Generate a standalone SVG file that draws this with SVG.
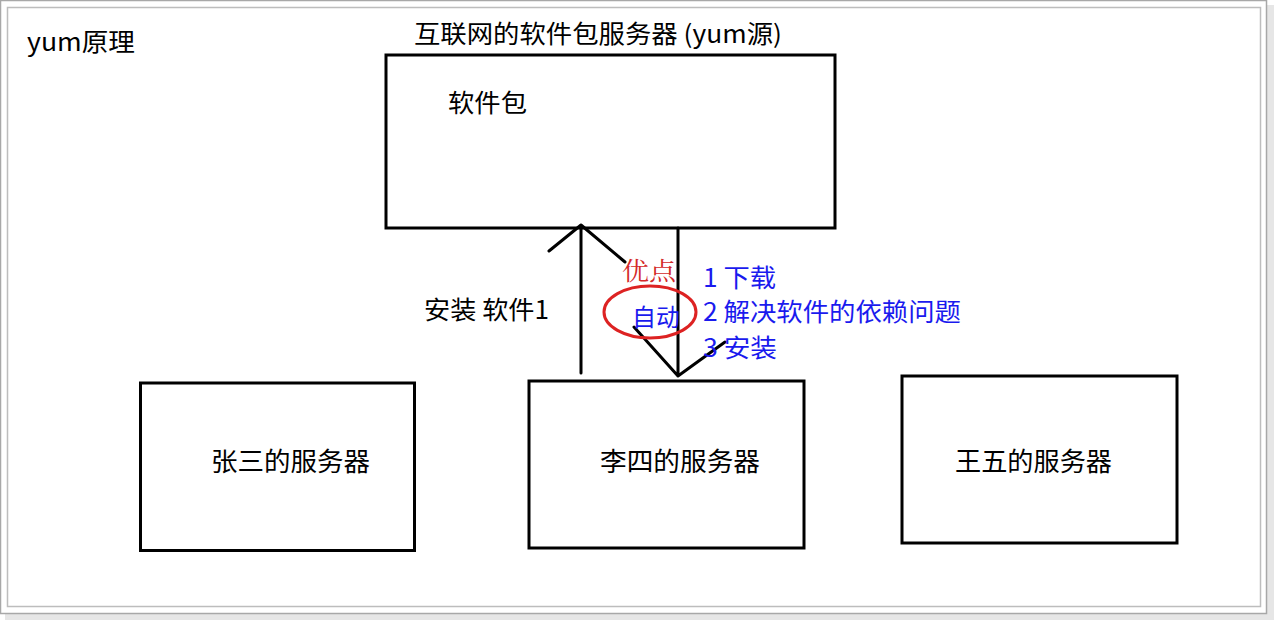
<svg xmlns="http://www.w3.org/2000/svg" width="1274" height="620" viewBox="0 0 1274 620">
<defs>
<style>
.box{fill:none;stroke:#000;stroke-width:3}
.t{font-family:"Noto Sans CJK SC","Noto Sans",sans-serif;fill:#000}
.b{font-family:"Noto Sans CJK SC","Noto Sans",sans-serif;fill:#1a1aee;font-size:25px}
.ln{fill:none;stroke:#000;stroke-width:3;stroke-linecap:round;stroke-linejoin:round}
</style>
</defs>
<rect x="0" y="0" width="1274" height="620" fill="#fff"/>
<rect x="5" y="614" width="1266" height="6" fill="#e6e6e6"/>
<rect x="1267" y="5" width="7" height="615" fill="#e6e6e6"/>
<rect x="0.5" y="0.5" width="1266" height="613" fill="#fff" stroke="#a8a8a8" stroke-width="1.5"/>
<rect x="7.5" y="7.5" width="1253" height="599" fill="#fff" stroke="#bdbdbd" stroke-width="1.5"/>
<text class="t" x="27" y="51" font-size="25" textLength="108" lengthAdjust="spacingAndGlyphs">yum原理</text>
<g id="server-internet">
<rect class="box" x="386" y="55" width="449" height="173"/>
<text class="t" x="414" y="43" font-size="25" textLength="368" lengthAdjust="spacingAndGlyphs">互联网的软件包服务器 (yum源)</text>
<text class="t" x="448" y="112" font-size="25" textLength="79" lengthAdjust="spacingAndGlyphs">软件包</text>
</g>
<g id="server-zhangsan">
<rect class="box" x="140.5" y="383" width="274" height="167.5"/>
<text class="t" x="211" y="471" font-size="26" textLength="159" lengthAdjust="spacingAndGlyphs">张三的服务器</text>
</g>
<g id="server-lisi">
<rect class="box" x="529" y="381" width="275" height="167"/>
<text class="t" x="600" y="471" font-size="26" textLength="160" lengthAdjust="spacingAndGlyphs">李四的服务器</text>
</g>
<g id="server-wangwu">
<rect class="box" x="902" y="376" width="275" height="167"/>
<text class="t" x="955" y="471" font-size="26" textLength="157" lengthAdjust="spacingAndGlyphs">王五的服务器</text>
</g>
<g id="connectors">
<path class="ln" d="M581 373 V225 M549 251 L581 225 L625 262"/>
<path class="ln" d="M678 228 V376 M634 327 L678 376 L725 342"/>
<text class="t" x="424" y="319" font-size="25" textLength="125" lengthAdjust="spacingAndGlyphs">安装 软件1</text>
</g>
<g id="notes">
<text x="622" y="280" font-family="'Noto Serif CJK SC','Liberation Serif',serif" font-size="25" fill="#d42a2a" textLength="54" lengthAdjust="spacingAndGlyphs">优点</text>
<ellipse cx="650" cy="312" rx="46" ry="26" fill="none" stroke="#dd2222" stroke-width="3"/>
<text x="632" y="326" font-family="'Noto Sans CJK SC',sans-serif" font-size="24" fill="#1a1aee" textLength="48" lengthAdjust="spacingAndGlyphs">自动</text>
<text class="b" x="703" y="287" textLength="73" lengthAdjust="spacingAndGlyphs">1 下载</text>
<text class="b" x="703" y="321" textLength="258" lengthAdjust="spacingAndGlyphs">2 解决软件的依赖问题</text>
<text class="b" x="703" y="357" textLength="74" lengthAdjust="spacingAndGlyphs">3 安装</text>
</g>
</svg>
